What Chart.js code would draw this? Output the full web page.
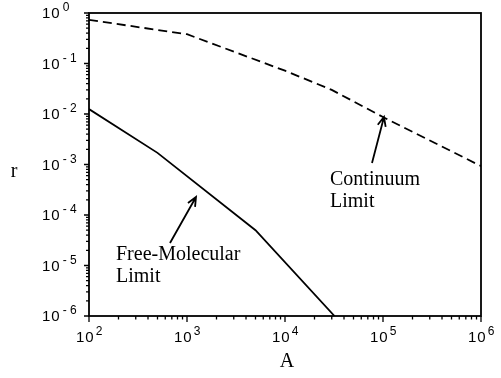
<!DOCTYPE html>
<html lang="en">
<head>
  <meta charset="UTF-8">
  <title>r vs A</title>
  <script src="https://cdn.jsdelivr.net/npm/chart.js"></script>
  <style>
    body { margin: 0; background: #fff; }
    canvas { display: block; }
  </style>
</head>
<body>
  <canvas id="grafico" width="501" height="378"></canvas>

  <script>
    // free-molecular limit (solid)
    const freeA = [100, 500, 5000, 32000];
    const freeR = [0.0125, 0.0017, 0.00005, 0.000001];

    // continuum limit (dashed)
    const contA = [100, 1000, 10000, 30000, 100000, 1000000];
    const contR = [0.73, 0.38, 0.072, 0.030, 0.0087, 0.00093];

    // axis ticks
    const xTicks = [1e2, 1e3, 1e4, 1e5, 1e6];
    const xTickExp = ['2', '3', '4', '5', '6'];
    const yTicks = [1, 1e-1, 1e-2, 1e-3, 1e-4, 1e-5, 1e-6];
    const yTickExp = ['0', '- 1', '- 2', '- 3', '- 4', '- 5', '- 6'];

    const SANS = '"Liberation Sans", Arial, sans-serif';
    const SERIF = '"Liberation Serif", "Times New Roman", serif';

    function pares(xs, ys) {
      let out = [];
      for (let i = 0; i < xs.length; i++) out.push({ x: xs[i], y: ys[i] });
      return out;
    }

    function seta(ctx, x1, y1, x2, y2) {
      ctx.beginPath();
      ctx.moveTo(x1, y1);
      ctx.lineTo(x2, y2);
      const ang = Math.atan2(y2 - y1, x2 - x1);
      const len = 10, abre = 0.42;
      ctx.moveTo(x2 - len * Math.cos(ang - abre), y2 - len * Math.sin(ang - abre));
      ctx.lineTo(x2, y2);
      ctx.lineTo(x2 - len * Math.cos(ang + abre), y2 - len * Math.sin(ang + abre));
      ctx.stroke();
    }

    const eixos = {
      id: 'eixos',
      afterDraw(chart) {
        const ctx = chart.ctx;
        const a = chart.chartArea;
        const sx = chart.scales.x, sy = chart.scales.y;
        ctx.save();
        ctx.strokeStyle = '#000';
        ctx.fillStyle = '#000';

        // frame
        ctx.lineWidth = 1.8;
        ctx.strokeRect(a.left, a.top, a.right - a.left, a.bottom - a.top);

        // ticks (outside)
        ctx.lineWidth = 1.3;
        ctx.beginPath();
        for (let d = 0; d < xTicks.length; d++) {
          const px = sx.getPixelForValue(xTicks[d]);
          ctx.moveTo(px, a.bottom); ctx.lineTo(px, a.bottom + 6);
          if (d < xTicks.length - 1) {
            for (let m = 2; m <= 9; m++) {
              const mx = sx.getPixelForValue(xTicks[d] * m);
              ctx.moveTo(mx, a.bottom); ctx.lineTo(mx, a.bottom + 3.5);
            }
          }
        }
        for (let d = 0; d < yTicks.length; d++) {
          const py = sy.getPixelForValue(yTicks[d]);
          ctx.moveTo(a.left, py); ctx.lineTo(a.left - 5, py);
          if (d > 0) {
            for (let m = 2; m <= 9; m++) {
              const my = sy.getPixelForValue(yTicks[d] * m);
              ctx.moveTo(a.left, my); ctx.lineTo(a.left - 3, my);
            }
          }
        }
        ctx.stroke();

        // tick labels 10^n
        ctx.textBaseline = 'alphabetic';
        ctx.textAlign = 'left';
        for (let i = 0; i < yTicks.length; i++) {
          const py = sy.getPixelForValue(yTicks[i]);
          ctx.font = '15px ' + SANS;
          ctx.letterSpacing = '1px';
          ctx.fillText('10', 42, py + 5);
          const w = ctx.measureText('10').width;
          ctx.font = '12px ' + SANS;
          ctx.letterSpacing = '0px';
          ctx.fillText(yTickExp[i], 42 + w + 2, py - 2);
        }
        for (let i = 0; i < xTicks.length; i++) {
          const px = sx.getPixelForValue(xTicks[i]);
          ctx.font = '15px ' + SANS;
          ctx.letterSpacing = '1px';
          ctx.fillText('10', px - 13, a.bottom + 26);
          const w = ctx.measureText('10').width;
          ctx.font = '12px ' + SANS;
          ctx.letterSpacing = '0px';
          ctx.fillText(xTickExp[i], px - 13 + w + 1, a.bottom + 19);
        }

        // axis titles
        ctx.font = '20px ' + SERIF;
        ctx.textAlign = 'center';
        ctx.fillText('A', (a.left + a.right) / 2 + 2, 367);
        ctx.fillText('r', 14, 177);

        // annotations
        ctx.textAlign = 'left';
        ctx.fillText('Free-Molecular', 116, 260);
        ctx.fillText('Limit', 116, 282);
        ctx.fillText('Continuum', 330, 185);
        ctx.fillText('Limit', 330, 207);

        ctx.lineWidth = 1.8;
        seta(ctx, 170, 243, 196, 197);
        seta(ctx, 372, 163, 384, 117);
        ctx.restore();
      }
    };

    new Chart(document.getElementById('grafico').getContext('2d'), {
      type: 'line',
      data: {
        datasets: [
          {
            label: 'Free-Molecular Limit',
            data: pares(freeA, freeR),
            borderColor: '#000',
            borderWidth: 1.8,
            pointRadius: 0,
            tension: 0,
            fill: false
          },
          {
            label: 'Continuum Limit',
            data: pares(contA, contR),
            borderColor: '#000',
            borderWidth: 1.8,
            borderDash: [9, 5],
            pointRadius: 0,
            tension: 0,
            fill: false
          }
        ]
      },
      options: {
        responsive: false,
        animation: false,
        layout: { padding: { left: 89, top: 13, right: 20, bottom: 62 } },
        scales: {
          x: { type: 'logarithmic', min: 100, max: 1e6, display: false },
          y: { type: 'logarithmic', min: 1e-6, max: 1, display: false }
        },
        plugins: {
          legend: { display: false },
          tooltip: { enabled: false }
        }
      },
      plugins: [eixos]
    });
  </script>
</body>
</html>
